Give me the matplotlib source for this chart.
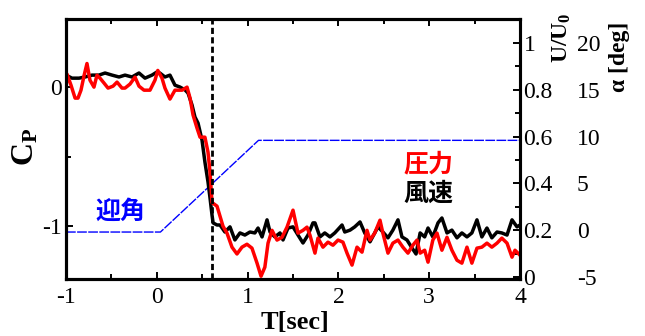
import matplotlib
matplotlib.use("Agg")
import matplotlib.pyplot as plt
from matplotlib.ticker import MultipleLocator

plt.rcParams['font.family'] = ['Liberation Serif', 'Noto Sans CJK JP']
plt.rcParams['mathtext.fontset'] = 'custom'
plt.rcParams['mathtext.rm'] = 'Liberation Serif'
plt.rcParams['mathtext.bf'] = 'Liberation Serif:bold'

# wind speed U/U0 (black)
t_wind = [-1.00, -0.934, -0.857, -0.79, -0.714, -0.637, -0.57, -0.493, -0.416, -0.35,
          -0.273, -0.196, -0.13, -0.053, 0.0, 0.033, 0.09, 0.145, 0.20, 0.255,
          0.31, 0.344, 0.388, 0.42, 0.454, 0.498, 0.53, 0.564, 0.586, 0.608,
          0.62, 0.663, 0.696, 0.75, 0.806, 0.86, 0.916, 0.97, 1.026, 1.08,
          1.115, 1.159, 1.214, 1.247, 1.30, 1.357, 1.39, 1.445, 1.50, 1.555,
          1.61, 1.665, 1.72, 1.742, 1.797, 1.85, 1.907, 1.96, 2.04, 2.07,
          2.128, 2.18, 2.238, 2.29, 2.348, 2.40, 2.436, 2.49, 2.546, 2.60,
          2.656, 2.70, 2.755, 2.81, 2.855, 2.90, 2.95, 2.987, 3.04, 3.097,
          3.14, 3.196, 3.25, 3.306, 3.36, 3.416, 3.47, 3.526, 3.58, 3.636,
          3.69, 3.747, 3.80, 3.857, 3.912, 3.967, 4.0]
u_wind = [0.863, 0.85, 0.85, 0.855, 0.863, 0.863, 0.872, 0.863, 0.855, 0.863,
          0.855, 0.872, 0.85, 0.863, 0.876, 0.872, 0.855, 0.863, 0.82, 0.812,
          0.80, 0.786, 0.735, 0.684, 0.658, 0.585, 0.491, 0.406, 0.338, 0.265,
          0.231, 0.222, 0.222, 0.192, 0.214, 0.158, 0.188, 0.179, 0.192, 0.188,
          0.209, 0.171, 0.244, 0.192, 0.171, 0.188, 0.158, 0.209, 0.214, 0.179,
          0.145, 0.179, 0.231, 0.231, 0.171, 0.188, 0.171, 0.188, 0.222, 0.192,
          0.20, 0.214, 0.235, 0.188, 0.15, 0.188, 0.214, 0.192, 0.167, 0.20,
          0.244, 0.171, 0.158, 0.124, 0.098, 0.188, 0.171, 0.209, 0.171, 0.231,
          0.252, 0.188, 0.20, 0.167, 0.188, 0.171, 0.188, 0.244, 0.171, 0.209,
          0.167, 0.192, 0.188, 0.179, 0.244, 0.214, 0.222]

# pressure coefficient Cp (red)
t_press = [-1.00, -0.989, -0.945, -0.90, -0.868, -0.835, -0.80, -0.769, -0.736, -0.692,
           -0.659, -0.626, -0.581, -0.537, -0.482, -0.438, -0.383, -0.35, -0.295, -0.24,
           -0.196, -0.141, -0.075, -0.02, 0.011, 0.057, 0.09, 0.145, 0.20, 0.278,
           0.333, 0.366, 0.399, 0.443, 0.476, 0.53, 0.564, 0.586, 0.608, 0.663,
           0.696, 0.729, 0.773, 0.828, 0.883, 0.938, 0.993, 1.048, 1.104, 1.148,
           1.19, 1.225, 1.269, 1.324, 1.379, 1.434, 1.50, 1.555, 1.61, 1.654,
           1.687, 1.742, 1.775, 1.83, 1.885, 1.94, 1.996, 2.05, 2.095, 2.15,
           2.205, 2.26, 2.315, 2.348, 2.40, 2.458, 2.49, 2.546, 2.60, 2.656,
           2.71, 2.766, 2.82, 2.866, 2.90, 2.95, 2.987, 3.04, 3.086, 3.14,
           3.196, 3.25, 3.306, 3.36, 3.416, 3.47, 3.526, 3.58, 3.636, 3.69,
           3.747, 3.80, 3.857, 3.912, 3.945, 4.0]
cp_press = [-0.007, 0.094, 0.014, -0.079, -0.079, -0.022, 0.086, 0.17, 0.05, 0.0,
            0.086, 0.065, 0.029, -0.007, 0.007, 0.036, -0.007, -0.007, 0.022, 0.072,
            0.007, -0.022, -0.022, 0.05, 0.12, 0.065, -0.007, -0.086, -0.022, -0.022,
            0.0, -0.079, -0.20, -0.295, -0.36, -0.36, -0.468, -0.61, -0.83, -0.856,
            -0.928, -1.0, -1.05, -1.151, -1.20, -1.151, -1.13, -1.158, -1.266, -1.36,
            -1.295, -1.122, -1.03, -1.10, -1.08, -1.007, -0.885, -1.05, -1.03, -1.007,
            -1.065, -1.194, -1.086, -1.151, -1.115, -1.137, -1.10, -1.115, -1.194, -1.28,
            -1.151, -1.187, -1.03, -1.10, -1.05, -0.957, -1.05, -1.194, -1.122, -1.10,
            -1.151, -1.194, -1.137, -1.10, -1.194, -1.173, -1.259, -1.10, -1.05, -1.173,
            -1.08, -1.173, -1.245, -1.266, -1.151, -1.266, -1.158, -1.151, -1.122, -1.151,
            -1.122, -1.086, -1.122, -1.223, -1.173, -1.209]

# angle of attack (blue)
t_alpha = [-1.0, 0.04, 1.12, 4.0]
alpha = [-0.2, -0.2, 9.6, 9.6]

t_mark = 0.61

fig = plt.figure(figsize=(6.45, 3.36), dpi=100)
ax = fig.add_axes([66/645, 1-279/336, (520-66)/645, (279-19)/336])
ax_u = ax.twinx()
ax_a = ax.twinx()
ax_a.set_zorder(1)
ax_u.set_zorder(2)
ax.set_zorder(3)
ax.patch.set_visible(False)

ax_a.plot(t_alpha, alpha, color='#0000ff', lw=1.0, ls=(0, (7, 1)))
ax_u.plot(t_wind, u_wind, color='black', lw=2.5)
ax.plot(t_press, cp_press, color='#ff0000', lw=2.5)
ax.axvline(t_mark, color='black', lw=2.0, ls=(0, (2.2, 1.2)))

ax.set_xlim(-1, 4)
ax.set_ylim(-1.38, 0.49)
ax_u.set_ylim(-0.009, 1.103)
ax_a.set_ylim(-5.22, 22.57)

ax.set_xticks([-1, 0, 1, 2, 3, 4])
ax.set_xticklabels(['-1', '0', '1', '2', '3', '4'])
ax.xaxis.set_minor_locator(MultipleLocator(0.5))
ax.set_yticks([0, -1])
ax.set_yticklabels(['0', '-1'])
ax.yaxis.set_minor_locator(MultipleLocator(0.5))
ax.tick_params(axis='x', which='both', direction='in', top=True, labelsize=17, pad=6, width=1.4)
ax.tick_params(axis='y', which='both', direction='in', right=False, labelsize=17, pad=3, width=1.4)
ax.tick_params(which='major', length=5)
ax.tick_params(which='minor', length=3.5)

ax_u.set_yticks([0, 0.2, 0.4, 0.6, 0.8, 1.0])
ax_u.set_yticklabels(['0', '0.2', '0.4', '0.6', '0.8', '1'])
ax_u.yaxis.set_minor_locator(MultipleLocator(0.1))
ax_u.tick_params(axis='y', which='both', direction='in', labelsize=17, pad=2.5, width=1.4)
ax_u.tick_params(which='major', length=5)
ax_u.tick_params(which='minor', length=3.5)

ax_a.spines['right'].set_position(('outward', 40))
ax_a.spines['right'].set_visible(False)
ax_a.set_yticks([-5, 0, 5, 10, 15, 20])
ax_a.set_yticklabels(['-5', '0', '5', '10', '15', '20'])
ax_a.tick_params(axis='y', length=0, labelsize=17, pad=1)

for a in (ax, ax_u, ax_a):
    for s in a.spines.values():
        s.set_linewidth(2.2)

ax.text(-0.405, -0.90, '迎角', color='#0000ff', fontsize=18, fontweight='bold',
        family='Noto Sans CJK JP', ha='center', va='center')
ax.text(2.987, -0.554, '圧力', color='#ff0000', fontsize=18, fontweight='bold',
        family='Noto Sans CJK JP', ha='center', va='center')
ax.text(2.987, -0.77, '風速', color='black', fontsize=18, fontweight='bold',
        family='Noto Sans CJK JP', ha='center', va='center')

fig.text(26/645, 1-147/336, r'$\mathbf{C_P}$', fontsize=23, rotation=90,
         ha='center', va='center')
fig.text(295/645, 1-311/336, 'T[sec]', fontsize=19, fontweight='bold',
         ha='center', va='top')
fig.text(562/645, 1-38/336, r'$\mathbf{U/U_0}$', fontsize=17, rotation=90,
         ha='center', va='center')
fig.text(620/645, 1-57/336, 'α [deg]', fontsize=17, fontweight='bold', rotation=90,
         ha='center', va='center')

fig.savefig('out.png', dpi=100)
